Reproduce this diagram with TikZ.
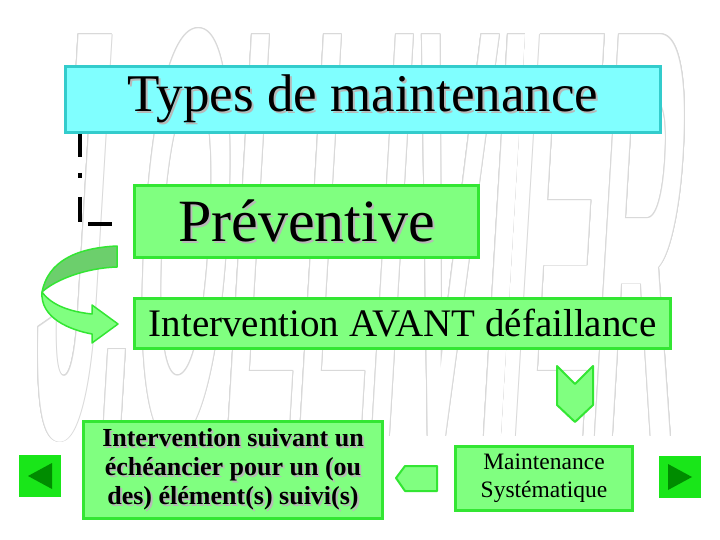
\documentclass[tikz,border=0pt]{standalone}
\usepackage{fontspec}
\setmainfont{Liberation Serif}
\setsansfont{Liberation Sans}
\usepackage{tikz}

\definecolor{titlefill}{HTML}{80FFFF}
\definecolor{titleline}{HTML}{33CCCC}
\definecolor{boxfill}{HTML}{80FF80}
\definecolor{boxline}{HTML}{33E633}
\definecolor{backfill}{HTML}{6CCF6C}
\definecolor{navfill}{HTML}{19E619}
\definecolor{navdark}{HTML}{008C00}
\definecolor{shadowgray}{HTML}{B8B8B8}
\definecolor{wmgray}{HTML}{D9D9D9}

\newcommand{\shadowed}[1]{\makebox[0pt][l]{\hspace{2pt}\raisebox{-2pt}{\textcolor{shadowgray}{#1}}}#1}

\begin{document}
\begin{tikzpicture}[x=1pt,y=-1pt,
    box/.style={draw=boxline, fill=boxfill, line width=3pt, inner sep=0pt},
    navbutton/.style={fill=navfill, minimum size=42pt, inner sep=0pt},
    wmark/.style={anchor=base west, inner sep=0pt,
        font=\sffamily\bfseries\fontsize{200}{200}\selectfont,
        cm={0.59,0,0.175,2.92,(0,0)}},
    dashlink/.style={line width=4pt, dash pattern=on 23pt off 16pt on 5pt off 19pt on 25pt off 10pt on 30pt},
    blockarrow/.style={draw=boxline, fill=boxfill, line width=2pt, line join=round}]
    \useasboundingbox (0,0) rectangle (720,540);
    \fill[white] (0,0) rectangle (720,540);

    % watermark
    \foreach \a in {0,30,...,330}
        \node[wmark, text=wmgray] at ({30+0.9*cos(\a)},{436+0.9*sin(\a)}) {J.OLLIVIER};
    \node[wmark, text=white] (wm) at (30,436) {J.OLLIVIER};

    % boxes
    \node[box, draw=titleline, fill=titlefill, minimum width=595pt, minimum height=66pt,
        font=\fontsize{53}{60}\selectfont] (title) at (363,99.5) {\shadowed{Types de maintenance}};
    \node[box, minimum width=344pt, minimum height=72pt,
        font=\fontsize{60}{66}\selectfont] (prev) at (306.5,221.5) {\shadowed{Préventive}};
    \node[box, minimum width=536pt, minimum height=50pt,
        font=\fontsize{39}{44}\selectfont] (avant) at (402.5,323.5) {Intervention AVANT défaillance};
    \node[box, minimum width=299pt, minimum height=97pt, align=center,
        font=\bfseries\fontsize{26}{29}\selectfont] (sched) at (233,470)
        {\shadowed{Intervention suivant un}\\\shadowed{échéancier pour un (ou}\\\shadowed{des) élément(s) suivi(s)}};
    \node[box, minimum width=177pt, minimum height=64pt, align=center,
        font=\fontsize{23.5}{28}\selectfont] (syst) at (544,478.5) {Maintenance\\Systématique};

    % navigation buttons
    \node[navbutton] (navl) at (40,476) {};
    \node[navbutton] (navr) at (680,477) {};
    \fill[navdark] ([xshift=-12pt]navl.center) -- ([xshift=12pt,yshift=13pt]navl.center)
        -- ([xshift=12pt,yshift=-13pt]navl.center) -- cycle;
    \fill[navdark] ([xshift=12pt]navr.center) -- ([xshift=-12pt,yshift=13pt]navr.center)
        -- ([xshift=-12pt,yshift=-13pt]navr.center) -- cycle;

    % dash-dot link
    \coordinate (prevtip) at (112,224);
    \draw[dashlink] ([xshift=16pt]title.south west) |- (prevtip);

    % curved ribbon arrow
    \draw[blockarrow, fill=backfill, line width=1.5pt] (117,246) .. controls (75,248) and (48,262) .. (42,292)
        .. controls (55,280) and (85,268) .. (117,267) -- cycle;
    \draw[blockarrow, line width=1.5pt] (42,292) .. controls (52,306) and (72,312) .. (92,314)
        -- (92,305) -- (118,324) -- (92,343) -- (92,334)
        .. controls (70,330) and (40,318) .. (42,292) -- cycle;

    % block arrows
    \draw[blockarrow] (557,366) -- (575,384) -- (593,366) -- (593,405) -- (575,422) -- (557,405) -- cycle;
    \draw[blockarrow] (396,478) -- (405,466) -- (437,466) -- (437,491) -- (405,491) -- cycle;
\end{tikzpicture}
\end{document}
